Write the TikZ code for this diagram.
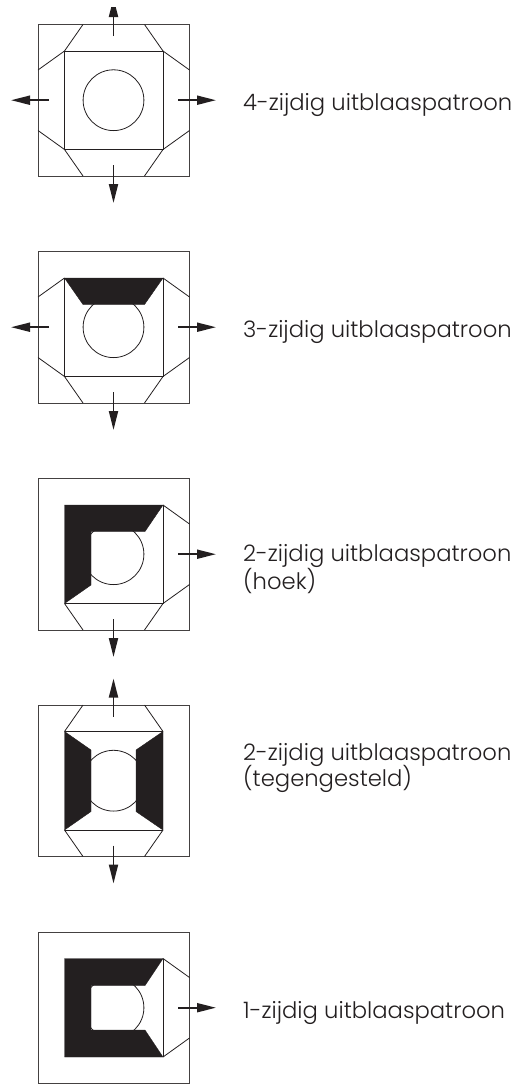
\documentclass[tikz,border=0pt]{standalone}
\usepackage{fontspec}
\setmainfont{Poppins Light}
\usetikzlibrary{arrows.meta}
\definecolor{ink}{HTML}{231F20}
\tikzset{
  x=1pt,y=-1pt,
  outer/.style={draw=ink!85,line width=0.85pt},
  thin line/.style={draw=ink,line width=0.8pt},
  dark/.style={fill=ink,draw=ink,line width=0.4pt,line join=miter},
  flow/.style={draw=ink,line width=1.9pt,-{Stealth[length=19pt,width=9pt,inset=0pt]}},
  lab/.style={anchor=base west,inner sep=0pt,text=ink,font=\fontsize{22.7}{28}\selectfont}
}
\newcommand{\baseframe}{\draw[outer] (38,24.5) rectangle (189.5,176);
  \draw[thin line] (113.5,100.2) circle (30.4);}
\newcommand{\cornT}{\draw[thin line] (64.5,51)--(83,24.5) (163,51)--(144.5,24.5);}
\newcommand{\cornB}{\draw[thin line] (64.5,149.5)--(83,176) (163,149.5)--(144.5,176);}
\newcommand{\cornL}{\draw[thin line] (64.5,51)--(38,70) (64.5,149.5)--(38,130.5);}
\newcommand{\cornR}{\draw[thin line] (163,51)--(189.5,70) (163,149.5)--(189.5,130.5);}
\newcommand{\arrT}{\draw[flow] (113.5,36)--(113.5,-2);}
\newcommand{\arrB}{\draw[flow] (113.5,165)--(113.5,203);}
\newcommand{\arrL}{\draw[flow] (49,100.2)--(11,100.2);}
\newcommand{\arrR}{\draw[flow] (178,100.2)--(216,100.2);}
\begin{document}
\begin{tikzpicture}
\useasboundingbox (0,0) rectangle (520,1084);
\clip (0,7) rectangle (520,1084);
% panel 1
\begin{scope}
  \baseframe
  \draw[thin line] (64.5,51) rectangle (163,149.5);
  \cornT\cornB\cornL\cornR
  \arrT\arrB\arrL\arrR
  \node[lab] (t1) at (243,110) {4-zijdig uitblaaspatroon};
\end{scope}
% panel 2
\begin{scope}[shift={(0,227)}]
  \baseframe
  \draw[thin line] (64.5,51) rectangle (163,149.5);
  \draw[dark] (64.5,51)--(163,51)--(144.5,77.5)--(83,77.5)--cycle;
  \cornB\cornL\cornR
  \arrB\arrL\arrR
  \node[lab] (t2) at (243,110) {3-zijdig uitblaaspatroon};
\end{scope}
% panel 3
\begin{scope}[shift={(0,454)}]
  \baseframe
  \draw[thin line] (163,51)--(163,149.5)--(64.5,149.5);
  \draw[dark] (64.5,51)--(163,51)--(145,77.5)--(91,77.5)--(91,131)--(64.5,149.5)--cycle;
  \cornB\cornR
  \arrB\arrR
  \node[lab] (t3a) at (243,107.5) {2-zijdig uitblaaspatroon};
  \node[lab] (t3b) at (243,135) {(hoek)};
\end{scope}
% panel 4
\begin{scope}[shift={(0,680.5)}]
  \baseframe
  \draw[thin line] (64.5,51)--(163,51) (64.5,149.5)--(163,149.5);
  \draw[dark] (64.5,51)--(91,69.5)--(91,131)--(64.5,149.5)--cycle;
  \draw[dark] (163,51)--(136,69.5)--(136,131)--(163,149.5)--cycle;
  \cornT\cornB
  \arrT\arrB
  \node[lab] (t4a) at (243,79.5) {2-zijdig uitblaaspatroon};
  \node[lab] (t4b) at (243,106) {(tegengesteld)};
\end{scope}
% panel 5
\begin{scope}[shift={(0,907.5)}]
  \baseframe
  \draw[thin line] (163,51)--(163,149.5);
  \draw[dark,even odd rule] (64.5,51)--(163,51)--(145,78)--(91,78)--(91,122.5)--(145,122.5)--(163,149.5)--(64.5,149.5)--cycle;
  \cornR
  \arrR
  \node[lab] (t5) at (243,110.5) {1-zijdig uitblaaspatroon};
\end{scope}
\end{tikzpicture}
\end{document}
